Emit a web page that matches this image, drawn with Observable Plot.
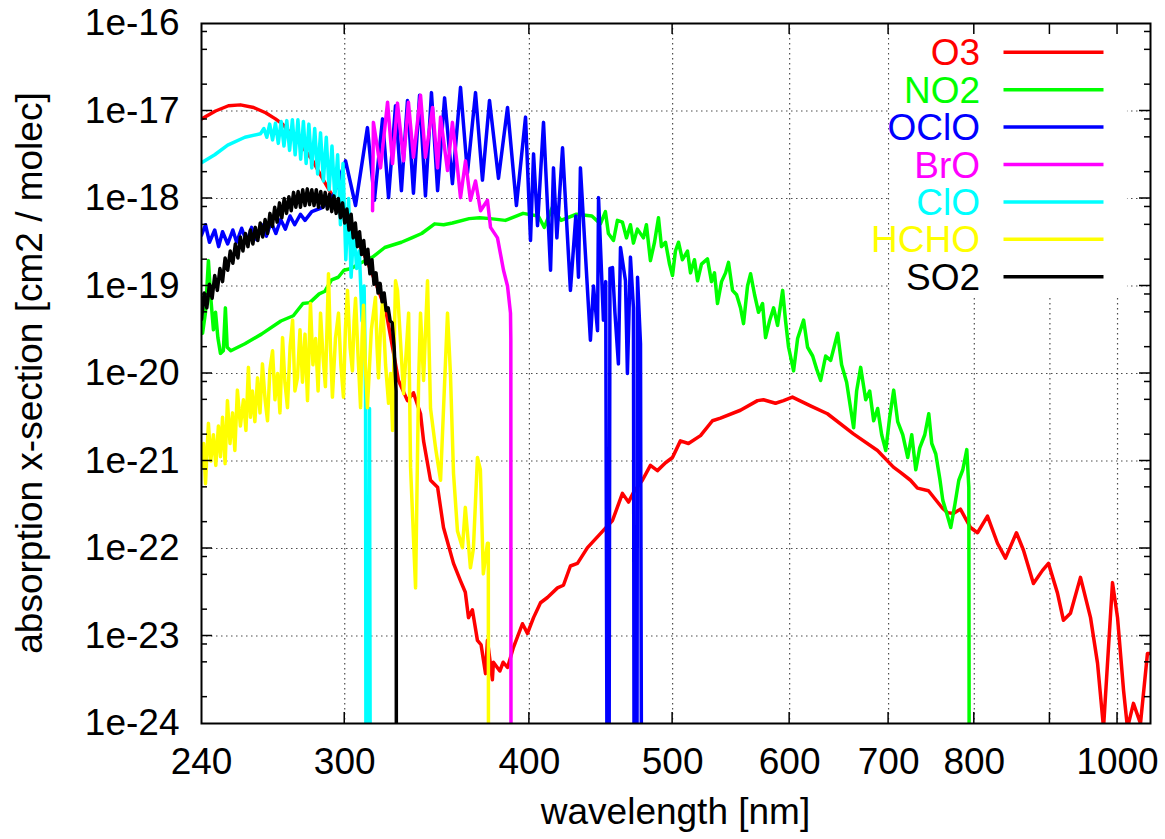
<!DOCTYPE html>
<html><head><meta charset="utf-8">
<script src="https://cdn.jsdelivr.net/npm/d3@7"></script>
<script src="https://cdn.jsdelivr.net/npm/@observablehq/plot@0.6"></script>
<style>body{margin:0;background:#fff}</style>
</head><body><div id="chart"></div>
<script>
// wavelength axis
const xMin = 240, xMax = 1052.7;
const xTickValues = [300, 400, 500, 600, 700, 800, 900, 1000];
const xLabelValues = [240, 300, 400, 500, 600, 700, 800, 1000];
// cross-section axis (powers of ten)
const yExponents = [-24, -23, -22, -21, -20, -19, -18, -17, -16];
const yMinorMantissas = [2, 5, 8];
const seriesNames = ["O3", "NO2", "OClO", "BrO", "ClO", "HCHO", "SO2"];
const seriesColors = ["#ff0000", "#00ff00", "#0000ff", "#ff00ff", "#00ffff", "#ffff00", "#000000"];
const xTitle = "wavelength [nm]";
const yTitle = "absorption x-section [cm2 / molec]";

// each entry: [wavelength nm, log10 of cross-section]; -30 marks the drop to zero
const o3 = [[240,-17.09],[245.3,-17.0],[250.3,-16.94],[255,-16.93],[260.3,-16.96],[265.2,-17.02],[269.3,-17.09],[272.3,-17.15],[280,-17.38],[285,-17.55],[290,-17.78],[295,-18.0],[300,-18.22],[305,-18.45],[310,-18.68],[315,-18.97],[320,-19.3],[322,-19.55],[326.2,-20.08],[330.8,-20.31],[333.9,-20.22],[337.6,-20.46],[339.2,-20.77],[342.9,-21.22],[346.7,-21.3],[349.9,-21.76],[355.4,-22.17],[359.3,-22.37],[362,-22.5],[363.8,-22.79],[366,-22.7],[368.9,-23.05],[371,-23.1],[373.6,-23.43],[374.7,-23.05],[377.6,-23.5],[378.2,-23.3],[382,-23.4],[384,-23.3],[386.6,-23.36],[390.2,-23.13],[395.7,-22.86],[398.8,-22.97],[402.6,-22.79],[407,-22.62],[411.4,-22.56],[417.9,-22.45],[421.8,-22.42],[426.4,-22.2],[431.1,-22.17],[437.9,-21.99],[446.8,-21.83],[455.3,-21.68],[462.4,-21.37],[466.8,-21.47],[470.4,-21.36],[477,-21.22],[483,-21.05],[488.3,-21.11],[494.5,-21.02],[499.9,-20.96],[506.1,-20.77],[512.5,-20.8],[522.2,-20.71],[532,-20.54],[538.7,-20.51],[555.7,-20.42],[570.7,-20.31],[576,-20.3],[586.9,-20.34],[594.3,-20.31],[602.6,-20.27],[619.8,-20.37],[636.4,-20.46],[662.7,-20.69],[688,-20.88],[705.3,-21.07],[713.1,-21.13],[724.3,-21.22],[732.2,-21.31],[744.9,-21.34],[761.3,-21.54],[767.3,-21.59],[774.4,-21.6],[782.9,-21.55],[795.2,-21.76],[804,-21.82],[816.6,-21.63],[829.4,-21.94],[839.8,-22.11],[854.3,-21.82],[863.7,-22.02],[877.2,-22.4],[889.7,-22.25],[898,-22.17],[910.7,-22.51],[919.2,-22.82],[929.3,-22.74],[943.9,-22.33],[958.8,-22.79],[969.3,-23.31],[978.4,-24.05],[992.2,-22.39],[1000,-22.79],[1009.4,-23.62],[1015.6,-24.05],[1025.1,-23.77],[1036.4,-24.0],[1047.7,-23.2],[1052,-23.2]];

const no2 = [[240,-19.4],[240.4,-19.54],[241.5,-19.3],[242.6,-18.71],[243.4,-19.1],[244.5,-19.5],[245.3,-19.3],[246.2,-19.59],[247.2,-19.77],[248.3,-19.74],[249.1,-19.25],[249.8,-19.7],[251.2,-19.74],[256.8,-19.66],[263.5,-19.55],[271.6,-19.4],[276.9,-19.34],[281.1,-19.2],[284.1,-19.19],[288.3,-19.09],[290.9,-19.06],[293.9,-18.93],[297,-18.9],[299.6,-18.82],[303,-18.8],[307.3,-18.74],[313.3,-18.67],[319.3,-18.56],[327.7,-18.5],[333,-18.45],[338.2,-18.4],[345.1,-18.29],[350,-18.3],[354.8,-18.28],[364.2,-18.23],[370.2,-18.22],[376.3,-18.23],[385.3,-18.25],[396.1,-18.17],[405.6,-18.2],[409.4,-18.33],[414.6,-18.1],[420.2,-18.25],[430.4,-18.18],[440.9,-18.2],[446.8,-18.29],[450.3,-18.15],[452.4,-18.4],[456,-18.48],[458.8,-18.25],[462.4,-18.27],[465.3,-18.45],[468.2,-18.3],[470.4,-18.51],[473.3,-18.35],[477.8,-18.45],[480,-18.3],[483,-18.71],[486.1,-18.5],[489.1,-18.22],[491.4,-18.55],[494.5,-18.5],[497.6,-18.75],[499.9,-18.88],[502.2,-18.6],[504.6,-18.5],[507.7,-18.7],[511.7,-18.6],[514.1,-18.85],[517.3,-18.7],[519.8,-18.94],[523,-18.75],[527.9,-18.69],[531.2,-18.95],[533.7,-18.85],[536.2,-19.2],[539.6,-18.95],[543,-18.85],[545.5,-18.73],[548.9,-19.05],[552.4,-19.1],[555.8,-19.25],[558.4,-19.43],[561.9,-19.0],[564.6,-18.86],[568.1,-19.1],[571.6,-19.3],[575.2,-19.2],[577.9,-19.59],[581.5,-19.4],[585.2,-19.25],[588.8,-19.45],[593.5,-19.05],[596.2,-19.4],[599,-19.7],[603.7,-19.97],[607.5,-19.6],[613.2,-19.39],[617,-19.7],[621.9,-19.8],[625.8,-19.95],[629.7,-20.08],[634.6,-19.8],[639.6,-19.85],[646.6,-19.54],[650.6,-19.9],[655.7,-20.1],[659.8,-20.4],[662.9,-20.62],[666,-20.2],[670.2,-19.93],[675.5,-20.3],[679.7,-20.2],[683.9,-20.54],[688.2,-20.4],[692.5,-20.7],[696.9,-20.88],[701.2,-20.5],[705.6,-20.19],[710,-20.55],[715.6,-20.7],[721.2,-20.96],[725.7,-20.7],[730.3,-21.1],[734.8,-20.85],[740.6,-20.7],[745.2,-20.46],[748.7,-20.8],[753.4,-20.92],[758.1,-21.2],[761.7,-21.45],[766.4,-21.6],[771.2,-21.76],[776.1,-21.5],[780.9,-21.22],[785.8,-21.1],[790.7,-20.87],[793.2,-21.3],[794.4,-30]];

const oclo = [[240,-18.42],[241.5,-18.3],[243,-18.5],[245,-18.36],[246.5,-18.55],[248,-18.38],[250,-18.52],[252,-18.36],[253.5,-18.5],[255.5,-18.34],[257.5,-18.5],[259.5,-18.33],[261.5,-18.47],[263.5,-18.3],[265.5,-18.43],[267.5,-18.27],[269.5,-18.4],[271.5,-18.24],[273.5,-18.35],[275.5,-18.2],[277.5,-18.3],[280,-18.18],[282,-18.25],[285,-18.15],[290,-18.1],[295,-17.95],[300.4,-17.57],[305.1,-18.08],[310.8,-17.19],[314.2,-18.02],[318.2,-17.09],[321.2,-17.99],[324.7,-16.94],[327.7,-17.91],[330.8,-16.88],[333.9,-17.94],[337.1,-16.82],[340.2,-17.97],[343.4,-16.79],[346.7,-17.91],[350.5,-16.85],[354.8,-17.83],[359.3,-16.73],[363.2,-17.71],[367.8,-16.79],[371.8,-17.79],[375.9,-16.88],[381.2,-17.77],[386.6,-16.96],[392,-18.08],[397.6,-17.07],[400.7,-18.48],[402.6,-17.49],[405.1,-18.31],[408.9,-17.13],[413.4,-18.82],[415.3,-17.65],[417.5,-18.45],[421.2,-17.42],[426.4,-19.05],[430,-18.2],[431.8,-18.9],[433.1,-17.65],[439.9,-19.62],[442,-19.0],[444.8,-19.51],[445.5,-17.99],[448.9,-19.39],[450.5,-18.95],[452.3,-30],[453.5,-18.8],[455.3,-18.79],[457,-19.3],[459.5,-19.89],[461,-18.56],[464.6,-18.94],[466,-20.0],[468.2,-18.67],[470.4,-19.25],[471.3,-30],[472.6,-30],[473.4,-18.9],[475.6,-19.66],[477.1,-30]];

const bro = [[313.3,-18.14],[313.7,-17.13],[317.2,-17.65],[320.7,-16.9],[323.2,-17.6],[325.7,-16.91],[328.8,-17.57],[331.3,-16.9],[333.9,-17.53],[337.6,-16.82],[340.2,-17.53],[344,-16.96],[346.7,-17.65],[348.3,-17.07],[352.1,-17.68],[354.8,-17.13],[357.6,-17.65],[359.3,-17.99],[362.1,-17.57],[364.9,-18.02],[367.8,-17.8],[370.7,-18.14],[374.7,-18.02],[376.5,-18.33],[380.6,-18.45],[384.2,-18.82],[386.6,-19.0],[388.4,-19.31],[388.6,-19.62],[388.8,-30]];

const clo = [[240,-17.59],[245,-17.5],[250,-17.39],[256.8,-17.3],[263.1,-17.26],[264.5,-17.2],[265.7,-17.3],[266.9,-17.15],[268.1,-17.33],[269.3,-17.14],[270.5,-17.37],[271.7,-17.12],[272.9,-17.4],[274.1,-17.11],[275.3,-17.45],[276.5,-17.1],[277.7,-17.5],[278.9,-17.1],[280.1,-17.55],[281.3,-17.12],[282.5,-17.6],[283.7,-17.15],[285,-17.65],[286.3,-17.2],[287.6,-17.72],[288.9,-17.25],[290.2,-17.8],[291.5,-17.3],[292.8,-17.9],[294.1,-17.4],[295.4,-17.98],[296.7,-17.5],[298,-18.3],[299.2,-17.6],[300.5,-18.7],[301.8,-18.0],[303,-18.9],[304.3,-18.3],[305.6,-18.8],[306.9,-18.6],[308.2,-19.4],[309.2,-19.0],[309.9,-20.3],[310.3,-30],[311.8,-20.4],[312.6,-30]];

const hcho = [[240,-21.07],[240.8,-20.8],[241.5,-21.26],[242.6,-20.57],[243.5,-21.0],[244.5,-20.7],[245.4,-21.05],[246.4,-20.6],[247.2,-20.95],[248,-20.5],[249,-21.03],[249.9,-20.31],[250.9,-20.8],[251.9,-20.45],[252.8,-20.88],[253.8,-20.19],[255,-20.6],[256.2,-20.3],[257.2,-20.65],[258.2,-19.93],[259,-20.5],[259.8,-20.2],[260.8,-20.55],[261.9,-20.05],[262.9,-20.45],[263.9,-19.89],[265,-20.3],[266,-20.54],[267,-19.95],[268.1,-19.74],[269.1,-20.3],[270.2,-20.0],[271.2,-20.45],[272.3,-19.59],[273.3,-20.1],[274.4,-20.39],[275.5,-19.7],[276.6,-19.39],[277.6,-20.2],[278.7,-20.05],[279.8,-19.5],[280.9,-20.1],[282,-19.55],[283.1,-20.31],[284.4,-19.2],[285.5,-19.9],[286.7,-19.6],[287.8,-20.2],[288.9,-19.31],[290,-19.8],[291.1,-20.15],[291.8,-19.5],[292.5,-18.86],[293.4,-19.7],[294.3,-20.27],[295.7,-19.6],[297.1,-19.31],[298.2,-19.9],[299.4,-20.27],[300.3,-19.5],[301.3,-19.05],[302.5,-19.7],[303.6,-19.97],[304.4,-19.4],[305.1,-19.14],[306.3,-19.8],[307.5,-20.39],[308.2,-19.6],[308.9,-19.22],[309.8,-19.9],[310.8,-20.39],[312.7,-19.5],[314.7,-19.13],[315.5,-19.7],[316.2,-20.05],[317.2,-19.5],[318.2,-19.17],[319.7,-19.9],[321.2,-20.34],[322.2,-20.0],[323.2,-20.65],[324.7,-18.94],[325.7,-19.05],[328.8,-20.23],[331.4,-19.31],[332.4,-21.07],[335,-22.45],[336.6,-20.08],[337.6,-19.31],[339.2,-20.08],[341.3,-18.94],[342.9,-20.4],[345.6,-20.85],[348.3,-21.22],[352.1,-19.31],[353.7,-20.0],[355.4,-21.14],[357.6,-21.8],[360.4,-21.99],[362,-21.53],[364.9,-22.22],[366.6,-22.0],[368.9,-20.96],[370.6,-21.1],[372.3,-22.29],[374.7,-21.94],[375.2,-21.94],[375.5,-30]];

const so2 = [[240,-19.38],[241,-19.08],[242,-19.25],[243,-18.98],[244,-19.14],[245,-18.88],[246,-19.05],[247,-18.8],[248,-18.95],[249,-18.68],[250,-18.82],[251,-18.6],[252,-18.74],[253,-18.52],[254,-18.68],[255,-18.44],[256,-18.6],[257,-18.4],[258,-18.55],[259,-18.36],[260,-18.52],[261,-18.33],[262,-18.48],[263,-18.28],[264,-18.44],[265,-18.24],[266,-18.4],[267,-18.17],[268,-18.32],[269,-18.1],[270,-18.27],[271,-18.05],[272,-18.22],[273,-18.0],[274,-18.17],[275,-17.98],[276,-18.14],[277,-17.93],[278,-18.1],[279,-17.92],[280,-18.1],[281,-17.9],[282,-18.08],[283,-17.89],[284,-18.07],[285,-17.9],[286,-18.08],[287,-17.9],[288,-18.1],[289,-17.92],[290,-18.1],[291,-17.93],[292,-18.12],[293,-17.95],[294,-18.15],[295,-17.97],[296,-18.17],[297,-18.0],[298,-18.22],[299,-18.05],[300,-18.28],[301,-18.12],[302,-18.36],[303,-18.18],[304,-18.45],[305,-18.28],[306,-18.55],[307,-18.38],[308,-18.64],[309,-18.48],[310,-18.75],[311,-18.58],[312,-18.86],[313,-18.7],[314,-18.98],[315,-18.85],[316,-19.08],[317,-18.97],[318,-19.18],[319,-19.08],[320,-19.28],[321,-19.25],[322,-19.4],[323,-19.42],[324,-19.7],[325,-20.2],[325.3,-30]];

const seriesData = [o3, no2, oclo, bro, clo, hcho, so2];

const toRows = arr => arr.map(([nm, e]) => ({nm, sigma: Math.pow(10, e)}));
const FONT = "'Liberation Sans', Arial, Helvetica, sans-serif";

const chart = Plot.plot({
  width: 1165, height: 839,
  marginLeft: 201, marginRight: 15, marginTop: 23, marginBottom: 116,
  style: {fontFamily: FONT, fontSize: "37px", background: "#fff", color: "#000"},
  x: {type: "log", domain: [xMin, xMax], label: null},
  y: {type: "log", domain: [1e-24, 1e-16], label: null},
  marks: [
    Plot.ruleX(xTickValues, {stroke: "#000", strokeOpacity: 0.7, strokeDasharray: "1.5,3.5", strokeWidth: 1.2}),
    Plot.ruleY(yExponents.slice(1, -1).map(e => Math.pow(10, e)), {stroke: "#000", strokeOpacity: 0.7, strokeDasharray: "1.5,3.5", strokeWidth: 1.2}),
    // blank legend area
    Plot.rect([0], {x1: 701.5, x2: 1015.6, y1: Math.pow(10, -19.13), y2: 1e-16, fill: "#fff"}),
    ...seriesData.map((d, i) => Plot.line(toRows(d), {x: "nm", y: "sigma", stroke: seriesColors[i], strokeWidth: 3.5, strokeLinejoin: "round", clip: true})),
    Plot.frame({stroke: "#000", strokeWidth: 2}),
    Plot.axisX({ticks: xLabelValues, tickSize: 0, tickPadding: 24, tickFormat: d => String(d), label: null}),
    Plot.axisY({ticks: yExponents.map(e => Math.pow(10, e)), tickSize: 0, tickPadding: 22, tickFormat: d => "1e" + Math.round(Math.log10(d)), label: null})
  ]
});

document.getElementById("chart").appendChild(chart);

const sx = chart.scale("x"), sy = chart.scale("y");
const L = sx.apply(xMin), R = sx.apply(xMax), T = sy.apply(1e-16), B = sy.apply(1e-24);
const svg = d3.select(chart);
const tg = svg.append("g").attr("stroke", "#000").attr("stroke-width", 1.5);
xTickValues.forEach(v => {
  const px = sx.apply(v);
  tg.append("line").attr("x1", px).attr("x2", px).attr("y1", B).attr("y2", B - 11);
  tg.append("line").attr("x1", px).attr("x2", px).attr("y1", T).attr("y2", T + 11);
});
yExponents.forEach(e => {
  if (e > -24 && e < -16) {
    const py = sy.apply(Math.pow(10, e));
    tg.append("line").attr("x1", L).attr("x2", L + 11).attr("y1", py).attr("y2", py);
    tg.append("line").attr("x1", R - 11).attr("x2", R).attr("y1", py).attr("y2", py);
  }
  if (e < -16) yMinorMantissas.forEach(m => {
    const py = sy.apply(m * Math.pow(10, e));
    tg.append("line").attr("x1", L).attr("x2", L + 6).attr("y1", py).attr("y2", py);
    tg.append("line").attr("x1", R - 6).attr("x2", R).attr("y1", py).attr("y2", py);
  });
});

// legend
const lg = svg.append("g").attr("font-family", FONT).attr("font-size", 37);
seriesNames.forEach((name, i) => {
  const cy = 52.3 + 37.4 * i;
  lg.append("text").attr("x", 980).attr("y", cy + 13).attr("text-anchor", "end").attr("fill", seriesColors[i]).text(name);
  lg.append("line").attr("x1", 1003.5).attr("x2", 1103.5).attr("y1", cy).attr("y2", cy).attr("stroke", seriesColors[i]).attr("stroke-width", 3.5);
});

// axis titles
svg.append("text").attr("x", (L + R) / 2).attr("y", 824).attr("text-anchor", "middle")
  .attr("font-family", FONT).attr("font-size", 37).attr("fill", "#000").text(xTitle);
svg.append("text").attr("transform", `translate(42,${(T + B) / 2}) rotate(-90)`).attr("text-anchor", "middle")
  .attr("font-family", FONT).attr("font-size", 37).attr("fill", "#000").text(yTitle);
</script>
</body></html>
